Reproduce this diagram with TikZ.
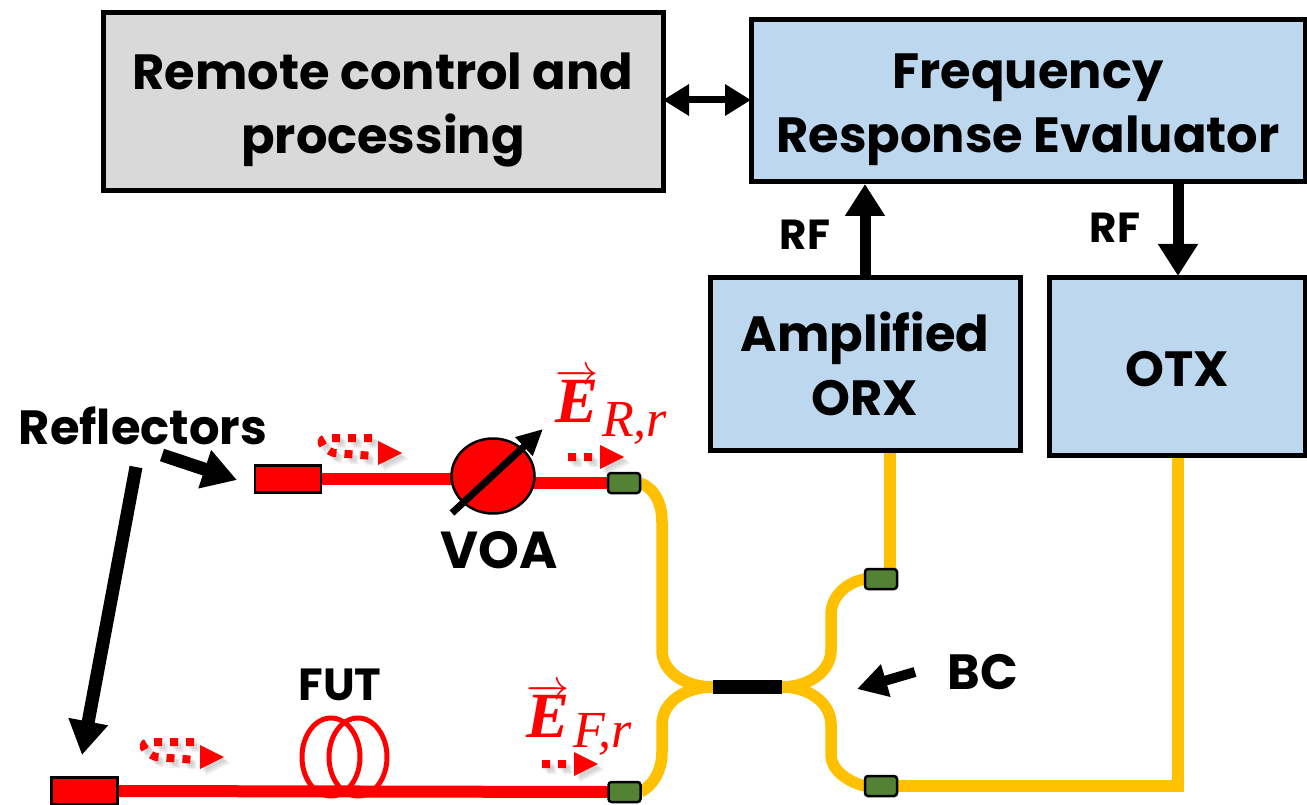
\documentclass[tikz,border=0pt]{standalone}
\usepackage{fontspec}
\usepackage{graphicx}
\setmainfont{Poppins}
\newfontfamily\mathlike{Liberation Serif}
\usetikzlibrary{arrows.meta,shapes.geometric,backgrounds}
\definecolor{boxblue}{RGB}{189,215,238}
\definecolor{boxgray}{RGB}{217,217,217}
\definecolor{fibre}{RGB}{255,192,0}
\definecolor{conn}{RGB}{84,130,53}
\tikzset{
  x=1pt,y=-1pt,
  block/.style={draw=black,line width=5pt,outer sep=0pt,minimum width=#1,inner sep=0pt,align=center},
  lab/.style={font=\fontsize{49.5}{64}\selectfont\bfseries,inner sep=0pt,outer sep=0pt,align=center,text=black},
  refltext/.style={font=\fontsize{48}{50}\selectfont\bfseries,inner sep=0pt,text=black},
  futtext/.style={font=\fontsize{45}{50}\selectfont\bfseries,inner sep=0pt,text=black},
  voatext/.style={font=\fontsize{52}{50}\selectfont\bfseries,inner sep=0pt,text=black},
  rf/.style={font=\fontsize{42}{44}\selectfont\bfseries,inner sep=0pt,text=black},
  yfib/.style={draw=fibre,line width=11.5pt},
  rfib/.style={draw=red,line width=12pt},
  conbox/.style={draw=black,line width=2.5pt,outer sep=0pt,fill=conn,rounded corners=3pt,minimum width=32pt,minimum height=20pt,inner sep=0pt},
  refl/.style={draw=black,line width=2.5pt,outer sep=0pt,fill=red,minimum width=66pt,minimum height=27pt,inner sep=0pt},
  dots/.style={line width=8pt,dash pattern=on 8pt off 8pt},
  vec/.style={inner sep=0pt,text=red},
}
\newcommand{\dotcurl}[2]{%
  \foreach \o in {3,4.5,6}{
    \begin{scope}[shift={(#1+\o,#2+\o)},opacity=.13]
    \fill[gray] (60,5) -- (84,17) -- (60,29) -- cycle;
    \draw[gray,dots] (54,2) -- (10,2) .. controls (0,2) and (2,12) .. (16,17) -- (56,20);
    \end{scope}}
  \begin{scope}[shift={(#1,#2)}]
    \fill[red] (60,5) -- (84,17) -- (60,29) -- cycle;
    \draw[red,dots] (54,2) -- (10,2) .. controls (0,2) and (2,12) .. (16,17) -- (56,20);
  \end{scope}}
\newcommand{\dotstraight}[2]{%
  \foreach \o in {3,4.5,6}{
    \begin{scope}[shift={(#1+\o,#2+\o)},opacity=.13]
    \fill[gray] (32,-12) -- (56,0) -- (32,12) -- cycle;
    \fill[gray] (0,-4) rectangle (8,4) (16,-4) rectangle (24,4);
    \end{scope}}
  \begin{scope}[shift={(#1,#2)}]
    \fill[red] (32,-12) -- (56,0) -- (32,12) -- cycle;
    \fill[red] (0,-4) rectangle (8,4) (16,-4) rectangle (24,4);
  \end{scope}}
\newcommand{\evec}{\scalebox{4.3}{$\overrightarrow{\hbox{\fontsize{15}{15}\selectfont\mathlike\bfseries\itshape E}}$}}
\newcommand{\downshift}[1]{\rule{0pt}{#1pt}}
\begin{document}
\begin{tikzpicture}
\useasboundingbox (0,0) rectangle (1307,805);
% blocks
\node[block=560pt,minimum height=178pt,fill=boxgray,lab,anchor=north west] (remote) at (103,13) {\downshift{53}Remote control and\\processing};
\node[block=554pt,minimum height=162pt,fill=boxblue,lab,anchor=north west] (fre) at (751,20) {\downshift{53}Frequency\\Response Evaluator};
\node[block=310pt,minimum height=172pt,fill=boxblue,lab,anchor=north west] (orx) at (710,278) {\downshift{40}Amplified\\ORX};
\node[block=256pt,minimum height=177pt,fill=boxblue,lab,anchor=north west] (otx) at (1049,278) {\downshift{40}OTX};
% arrows between blocks
\draw[black,line width=7pt,{Triangle[length=26pt,width=30pt]}-{Triangle[length=26pt,width=30pt]}] (remote.east |- 0,100) -- (fre.west |- 0,100);
\coordinate (orxout) at (865,276);
\coordinate (frein) at (865,184);
\coordinate (freout) at (1178,184);
\coordinate (otxin) at (1178,276);
\draw[black,line width=11pt,-{Triangle[length=32pt,width=38pt]}] (orxout) -- (frein);
\draw[black,line width=11pt,-{Triangle[length=32pt,width=38pt]}] (freout) -- (otxin);
\node[rf] (rf1) at (805,235) {RF};
\node[rf] (rf2) at (1115,228) {RF};
% component nodes
\node[refl] (r1) at (288,479) {};
\node[refl] (r2) at (84.5,791) {};
\node[ellipse,draw=black,line width=2.5pt,outer sep=0pt,fill=red,minimum width=83pt,minimum height=75pt,inner sep=0pt] (voa) at (493,476) {};
\node[conbox] (c1) at (624,483) {};
\node[conbox] (c2) at (624.5,792) {};
\node[conbox] (c3) at (881,579) {};
\node[conbox] (c4) at (881,786) {};
\node[fill=black,outer sep=0pt,minimum width=69pt,minimum height=14pt,inner sep=0pt] (bc) at (747.5,687) {};
% fibres behind the components
\begin{scope}[on background layer]
\draw[rfib] (r1.east) -- (voa.center |- r1.east);
\draw[rfib] (voa.center |- c1.west) -- (c1.west);
\draw[rfib] (r2.east) -- (c2.west);
\foreach \ex in {331,358}{\draw[red,line width=5pt] (\ex,757) ellipse (29 and 39);}
\draw[yfib] (c1.east) .. controls (652,487) and (662,500) .. (662,522) -- (662,650) .. controls (662,672) and (685,687) .. (bc.west);
\draw[yfib] (c2.east) .. controls (652,786) and (662,772) .. (662,752) -- (662,725) .. controls (662,702) and (685,687) .. (bc.west);
\draw[yfib] (c3.west) .. controls (848,582) and (831,595) .. (831,615) -- (831,650) .. controls (831,672) and (808,687) .. (bc.east);
\draw[yfib] (c4.west) .. controls (848,782) and (831,770) .. (831,755) -- (831,725) .. controls (831,702) and (808,687) .. (bc.east);
\coordinate (orxfib) at (890,452);
\coordinate (otxfib) at (1178,455);
\draw[yfib] (c3.north -| orxfib) -- (orxfib);
\draw[yfib] (c4.east) -- (c4.east -| otxfib) -- (otxfib);
\end{scope}
\coordinate (voaa) at (452,513);
\coordinate (voab) at (543,429);
\draw[black,line width=7pt,-{Triangle[length=26pt,width=24pt]}] (voaa) -- (voab);
% labels
\node[refltext] (reflectors) at (143,426) {Reflectors};
\node[voatext] (voal) at (499,550) {VOA};
\node[futtext] (fut) at (340,685) {FUT};
\node[lab] (bcl) at (983,672) {BC};
\coordinate (p1) at (162,455);
\coordinate (p2) at (237,480);
\coordinate (p3) at (136,467);
\coordinate (p4) at (82,755);
\coordinate (p5) at (915,672);
\coordinate (p6) at (857,689);
\draw[black,line width=13pt,-{Triangle[length=34pt,width=38pt]}] (p1) -- (p2);
\draw[black,line width=13pt,-{Triangle[length=34pt,width=38pt]}] (p3) -- (p4);
\draw[black,line width=10pt,-{Triangle[length=30pt,width=32pt]}] (p5) -- (p6);
% vectors
\node[vec,anchor=south west] (er) at (555,423) {\evec};
\node[vec,anchor=south west] (ersub) at (602,445) {\fontsize{52}{52}\selectfont\mathlike\itshape R,r};
\node[vec,anchor=south west] (ef) at (526,738) {\evec};
\node[vec,anchor=south west] (efsub) at (573,756) {\fontsize{52}{52}\selectfont\mathlike\itshape F,r};
\dotcurl{318}{436}
\dotcurl{140}{740}
\dotstraight{568}{457}
\dotstraight{542}{764}
\end{tikzpicture}
\end{document}
